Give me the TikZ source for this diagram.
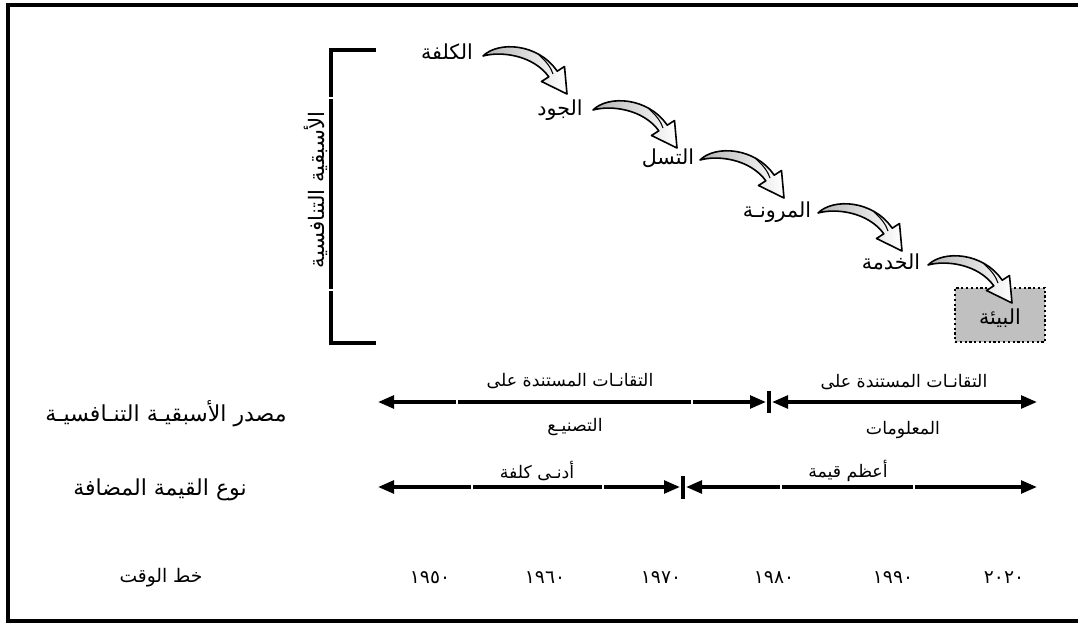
\documentclass[tikz,border=0pt]{standalone}
\usepackage{fontspec}
\newfontfamily\ar[Script=Arabic]{DejaVu Sans}
\TeXXeTstate=1
\usetikzlibrary{arrows.meta}
\definecolor{boxgray}{HTML}{C0C0C0}
\definecolor{arrgray}{HTML}{B4B4B4}
\tikzset{
  stepword/.style={font=\ar\fontsize{15.5}{18}\selectfont, inner sep=0pt},
  rowlabel/.style={font=\ar\fontsize{16.5}{19}\selectfont, inner sep=0pt},
  barlabel/.style={font=\ar\fontsize{13}{15}\selectfont, inner sep=0pt},
  timelabel/.style={font=\ar\fontsize{14}{16}\selectfont, inner sep=0pt},
  yearlabel/.style={font=\ar\fontsize{14}{16}\selectfont, inner sep=0pt},
  spanline/.style={line width=2.6pt, {Triangle[length=12pt,width=9.5pt]}-{Triangle[length=12pt,width=9.5pt]}},
  gapline/.style={white, line width=1.3pt},
  tickline/.style={line width=2.6pt},
  curvarrow/.pic={
    \draw[line width=1.2pt, line join=round, left color=arrgray, right color=white]
      (0,0) .. controls (15,-15) and (55,-13) .. (74.2,15.2)
      -- (81.5,10.5) -- (84,38) -- (58.5,25.5) -- (65.8,20.8)
      .. controls (50,-1) and (18,-5) .. (0,0) -- cycle;
    \draw[line width=0.8pt] (56,-1) .. controls (64,6) and (68,12) .. (70,18);
  }
}
\begin{document}
\begin{tikzpicture}[x=0.75pt,y=-0.75pt]
\useasboundingbox (0,0) rectangle (1078,624);
\clip (0,0) rectangle (1078,624);
% frame
\draw[line width=3pt] (1100,5) -- (8,5) -- (8,621) -- (1100,621);

% bracket
\draw[line width=3pt] (376,50) -- (331,50) -- (331,343) -- (376,343);
\draw[gapline] (327,98) -- (335,98);
\draw[gapline] (327,290) -- (335,290);
\node[inner sep=0pt, rotate=90, font=\ar\fontsize{16}{18}\selectfont] (vt) at (316,190) {\beginR الأسبقية التنافسية\endR};

% box
\node[draw, dotted, line width=1.6pt, fill=boxgray, minimum width=90*0.75pt, minimum height=54*0.75pt, inner sep=0pt] (b6) at (1000,315) {};
\node[stepword] (w6) at (1000,318) {\beginR البيئة\endR};

% step words
\node[stepword] (w1) at (447,52) {\beginR الكلفة\endR};
\node[stepword] (w2) at (560,110) {\beginR الجود\endR};
\node[stepword] (w3) at (668,158) {\beginR التسل\endR};
\node[stepword] (w4) at (777,212) {\beginR المرونـة\endR};
\node[stepword] (w5) at (891,262) {\beginR الخدمة\endR};

% curved arrows
\pic (a1) at (483,56) {curvarrow};
\pic (a2) at (593,110) {curvarrow};
\pic (a3) at (700,160) {curvarrow};
\pic (a4) at (818,213) {curvarrow};
\pic (a5) at (928,265) {curvarrow};

% row labels
\node[rowlabel] (r1) at (166,414) {\beginR مصدر الأسبقيـة التنـافسيـة\endR};
\node[rowlabel] (r2) at (160,490) {\beginR نوع القيمة المضافة\endR};
\node[timelabel] (r3) at (161,578) {\beginR خط الوقت\endR};

% row 1 arrows
\coordinate (p1a) at (378,402);
\coordinate (p1b) at (766,402);
\coordinate (p1c) at (772,402);
\coordinate (p1d) at (1037,402);
\draw[spanline] (p1a) -- (p1b);
\draw[spanline] (p1c) -- (p1d);
\draw[gapline] (457,397) -- (457,407);
\draw[gapline] (692,397) -- (692,407);
\draw[tickline] (769,391) -- (769,413);
\node[barlabel] (t1) at (570,381) {\beginR التقانـات المستندة على\endR};
\node[barlabel] (t2) at (575,427) {\beginR التصنيـع\endR};
\node[barlabel] (t3) at (904,382) {\beginR التقانـات المستندة على\endR};
\node[barlabel] (t4) at (903,430) {\beginR المعلومات\endR};

% row 2 arrows
\coordinate (p2a) at (378,487);
\coordinate (p2b) at (680,487);
\coordinate (p2c) at (686,487);
\coordinate (p2d) at (1037,487);
\draw[spanline] (p2a) -- (p2b);
\draw[spanline] (p2c) -- (p2d);
\draw[gapline] (472,482) -- (472,492);
\draw[gapline] (603,482) -- (603,492);
\draw[gapline] (781,482) -- (781,492);
\draw[gapline] (914,482) -- (914,492);
\draw[tickline] (683,476) -- (683,499);
\node[barlabel] (t5) at (537,471) {\beginR أدنـى كلفة\endR};
\node[barlabel] (t6) at (848,471) {\beginR أعظم قيمة\endR};

% years
\node[yearlabel] (y1) at (430,578) {١٩٥٠};
\node[yearlabel] (y2) at (545,578) {١٩٦٠};
\node[yearlabel] (y3) at (661,578) {١٩٧٠};
\node[yearlabel] (y4) at (774,578) {١٩٨٠};
\node[yearlabel] (y5) at (893,578) {١٩٩٠};
\node[yearlabel] (y6) at (1004,578) {٢٠٢٠};
\end{tikzpicture}
\end{document}
